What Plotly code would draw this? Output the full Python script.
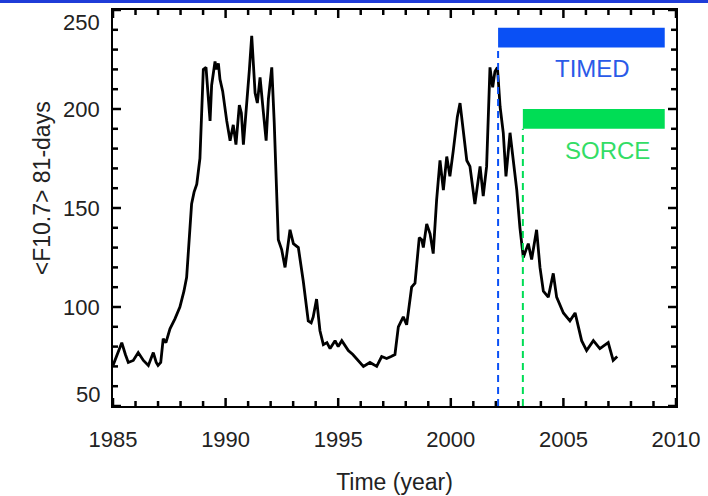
import plotly.graph_objects as go

# 81-day mean of the F10.7 solar radio flux (decimal year, sfu)
years = [
    1985.00, 1985.15, 1985.39, 1985.55, 1985.68, 1985.90, 1986.12, 1986.35,
    1986.57, 1986.79, 1986.92, 1987.00, 1987.12, 1987.23, 1987.35, 1987.53,
    1987.75, 1987.97, 1988.15, 1988.27, 1988.40, 1988.49, 1988.60, 1988.72,
    1988.86, 1989.01, 1989.13, 1989.22, 1989.31, 1989.38, 1989.53, 1989.60,
    1989.68, 1989.75, 1989.87, 1990.05, 1990.20, 1990.34, 1990.46, 1990.61,
    1990.70, 1990.79, 1990.94, 1991.05, 1991.16, 1991.31, 1991.41, 1991.53,
    1991.68, 1991.80, 1991.90, 1992.05, 1992.16, 1992.27, 1992.34, 1992.49,
    1992.64, 1992.86, 1993.01, 1993.23, 1993.45, 1993.67, 1993.80, 1993.89,
    1994.04, 1994.19, 1994.34, 1994.50, 1994.64, 1994.86, 1995.00, 1995.16,
    1995.45, 1995.65, 1995.82, 1996.12, 1996.41, 1996.71, 1996.93, 1997.15,
    1997.35, 1997.52, 1997.67, 1997.89, 1998.04, 1998.26, 1998.41, 1998.60,
    1998.71, 1998.78, 1998.93, 1999.08, 1999.22, 1999.37, 1999.52, 1999.67,
    1999.82, 1999.96, 2000.11, 2000.29, 2000.41, 2000.53, 2000.71, 2000.85,
    2001.07, 2001.30, 2001.44, 2001.59, 2001.74, 2001.86, 2001.96, 2002.07,
    2002.19, 2002.33, 2002.45, 2002.63, 2002.78, 2002.93, 2003.07, 2003.22,
    2003.44, 2003.59, 2003.81, 2003.96, 2004.11, 2004.33, 2004.55, 2004.70,
    2005.00, 2005.29, 2005.52, 2005.81, 2006.03, 2006.33, 2006.62, 2006.99,
    2007.21, 2007.39,
]
f107 = [
    70.5, 75, 82, 76, 72, 73, 77, 73,
    70.5, 77, 72, 70.5, 72, 84, 82, 89,
    94, 100, 108, 115, 135, 152, 158, 162,
    175, 220, 221, 205, 194, 212, 224, 220,
    223, 215, 209, 194, 184, 192, 182, 202,
    198, 182, 201, 219, 237, 208, 203, 216,
    198, 184, 205, 221, 193, 160, 134, 129,
    120, 139, 132, 130, 113, 93, 92, 95,
    104, 88, 81, 82, 79, 83, 80, 83,
    78, 76, 74, 70, 72, 70, 75, 74,
    75, 76, 90, 95, 91, 110, 112, 135,
    134, 130, 142, 137, 127, 154, 174, 159,
    176, 166, 179, 196, 203, 191, 174, 171,
    152, 171, 156, 171, 221, 211, 219, 221,
    201, 188, 166, 188, 174, 159, 140, 125,
    132, 124, 139, 120, 108, 105, 117, 105,
    97, 93, 97, 83, 78, 83, 79, 82,
    73, 75,
]

# Axis ticks
x_major = [1985, 1990, 1995, 2000, 2005, 2010]
x_minor = list(range(1985, 2011))
y_major = [50, 100, 150, 200, 250]
y_minor = list(range(50, 251, 10))

# Mission coverage: start year, end of bar, bar extent in flux units
missions = ["TIMED", "SORCE"]
mission_start = [2002.1, 2003.2]
mission_end = [2009.5, 2009.5]
bar_low = [231, 190]
bar_high = [241, 200]
label_x = [2006.27, 2006.98]
label_y = [220.5, 179]
bar_colors = ["#0a50f5", "#00dd55"]
text_colors = ["#2a5ae8", "#33dd66"]

FONT = "Liberation Sans, Arial, Helvetica, sans-serif"
TEXT = "#222"
W, H = 708, 496
M = dict(l=113, r=32, t=10, b=90)
PW = W - M["l"] - M["r"]   # plot-area width in px
PH = H - M["t"] - M["b"]   # plot-area height in px
MAJOR_LEN, MINOR_LEN = 8, 5
XR, YR = [1985, 2010], [50, 250]

fig = go.Figure()
fig.add_trace(go.Scatter(
    x=years, y=f107, mode="lines",
    line=dict(color="black", width=2.8),
    showlegend=False, hoverinfo="skip",
))

# inward tick marks on all four sides of the frame, drawn as one path trace
tx, ty = [], []
for xv in x_minor:
    ln = (MAJOR_LEN if xv in x_major else MINOR_LEN) * (YR[1] - YR[0]) / PH
    tx += [xv, xv, None, xv, xv, None]
    ty += [YR[0], YR[0] + ln, None, YR[1], YR[1] - ln, None]
for yv in y_minor:
    ln = (MAJOR_LEN if yv in y_major else MINOR_LEN) * (XR[1] - XR[0]) / PW
    tx += [XR[0], XR[0] + ln, None, XR[1], XR[1] - ln, None]
    ty += [yv, yv, None, yv, yv, None]
fig.add_trace(go.Scatter(
    x=tx, y=ty, mode="lines", line=dict(color="black", width=2.5),
    showlegend=False, hoverinfo="skip",
))

shapes = []
annotations = []
for name, x0, x1, lo, hi, bc, tc, lx, ly in zip(
        missions, mission_start, mission_end, bar_low, bar_high,
        bar_colors, text_colors, label_x, label_y):
    shapes.append(dict(type="rect", xref="x", yref="y", x0=x0, x1=x1,
                       y0=lo, y1=hi, fillcolor=bc, line=dict(width=0),
                       layer="above"))
    shapes.append(dict(type="line", xref="x", yref="y", x0=x0, x1=x0,
                       y0=YR[0], y1=lo,
                       line=dict(color=bc, width=2, dash="7px,5px"),
                       layer="above"))
    annotations.append(dict(x=lx, y=ly, xref="x", yref="y", text=name,
                            showarrow=False,
                            font=dict(family=FONT, size=24, color=tc)))

# y tick labels; the end labels sit just inside the frame
for yv in y_major:
    shift = -12 if yv == YR[1] else (12 if yv == YR[0] else 0)
    annotations.append(dict(x=0, xref="paper", y=yv, yref="y", text=str(yv),
                            xanchor="right", yanchor="middle", xshift=-11,
                            yshift=shift, showarrow=False,
                            font=dict(family=FONT, size=22, color=TEXT)))

# y axis title
annotations.append(dict(x=-0.126, xref="paper", y=0.55, yref="paper",
                        text="&lt;F10.7&gt; 81-days", textangle=-90,
                        xanchor="center", yanchor="middle", showarrow=False,
                        font=dict(family=FONT, size=23, color=TEXT)))

# thin blue rule along the top edge of the page
shapes.append(dict(type="line", xref="paper", yref="paper",
                   x0=-0.25, x1=1.1, y0=1 + 8.5 / PH, y1=1 + 8.5 / PH,
                   line=dict(color="#1f3cd8", width=3)))

fig.update_layout(
    width=W, height=H, autosize=False, margin=M,
    paper_bgcolor="white", plot_bgcolor="white",
    shapes=shapes, annotations=annotations,
)
fig.update_xaxes(
    range=XR, tickmode="array", tickvals=x_major,
    showline=True, linewidth=2, linecolor="black", mirror=True,
    ticks="", showgrid=False, zeroline=False, automargin=False,
    ticklabelstandoff=13, ticklabeloverflow="allow",
    tickfont=dict(family=FONT, size=22, color=TEXT),
    title=dict(text="Time (year)", standoff=22,
               font=dict(family=FONT, size=23, color=TEXT)),
)
fig.update_yaxes(
    range=YR, showticklabels=False,
    showline=True, linewidth=2, linecolor="black", mirror=True,
    ticks="", showgrid=False, zeroline=False, automargin=False,
)

fig.write_html("out.html")
